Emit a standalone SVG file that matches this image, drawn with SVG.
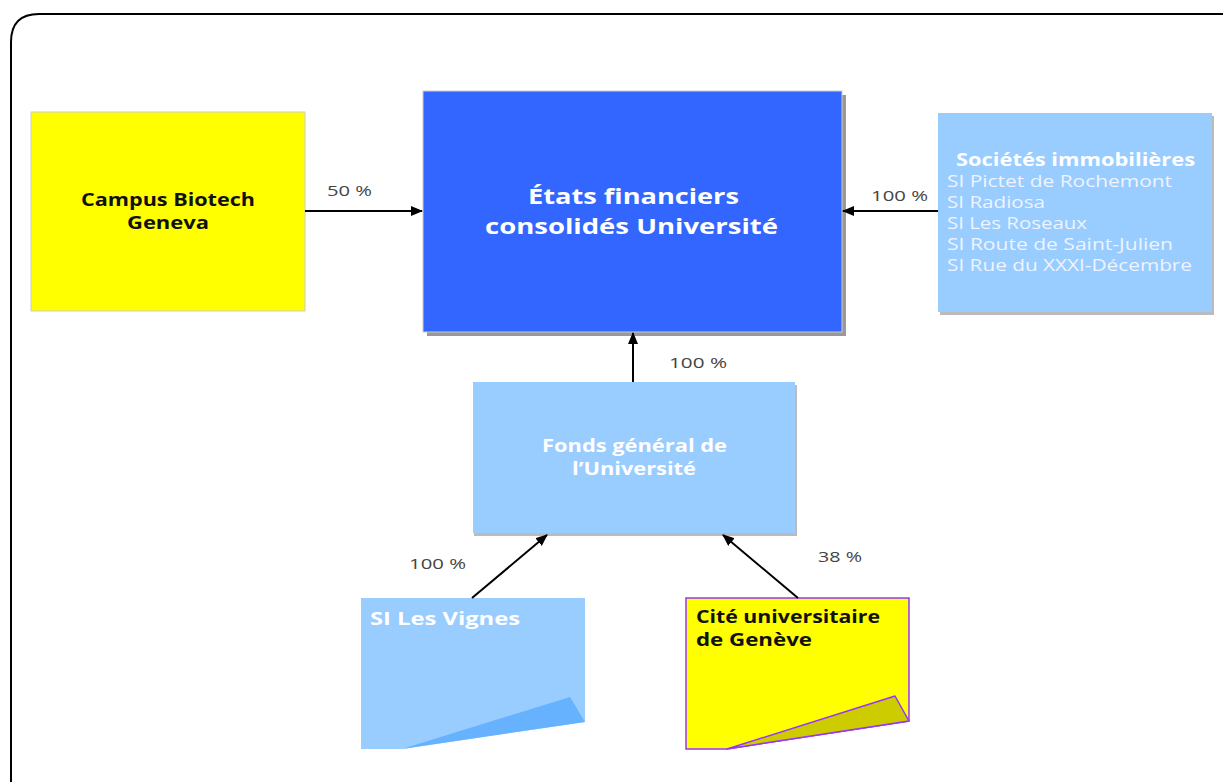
<svg xmlns="http://www.w3.org/2000/svg" width="1223" height="782" viewBox="0 0 1223 782">
<style>
.t{font-family:"Open Sans","Liberation Sans",sans-serif}
.b{font-weight:bold}
.w{fill:#ffffff}
.pct{font-family:"Open Sans","Liberation Sans",sans-serif;font-size:15px;fill:#444444}
.ln{stroke:#000;stroke-width:2;fill:none}
.sh{fill:#999999}
</style>
<defs>
<marker id="ah" markerWidth="12" markerHeight="10" refX="11" refY="5" orient="auto" markerUnits="userSpaceOnUse">
<path d="M0,0 L12,5 L0,10 Z" fill="#000"/>
</marker>
</defs>
<rect width="1223" height="782" fill="#ffffff"/>
<path d="M11,800 L11,42 Q11,14 39,14 L1240,14" fill="none" stroke="#000" stroke-width="2"/>

<g id="campus">
<rect x="31" y="112" width="274" height="199" fill="#ffff00" stroke="#cccccc" stroke-width="1"/>
<text class="t b" font-size="17" fill="#111" x="81" y="206" textLength="174" lengthAdjust="spacingAndGlyphs">Campus Biotech</text>
<text class="t b" font-size="17" fill="#111" x="127" y="229" textLength="82" lengthAdjust="spacingAndGlyphs">Geneva</text>
</g>

<g id="etats">
<rect x="427" y="95" width="419" height="241" class="sh"/>
<rect x="423" y="91" width="419" height="241" fill="#3366ff" stroke="#cccccc" stroke-width="1"/>
<text class="t b w" font-size="22" x="528" y="204" textLength="211" lengthAdjust="spacingAndGlyphs">États financiers</text>
<text class="t b w" font-size="22" x="485" y="234" textLength="293" lengthAdjust="spacingAndGlyphs">consolidés Université</text>
</g>

<g id="societes">
<rect x="940" y="116" width="274" height="199" fill="#bbbbbb"/>
<rect x="938" y="113" width="274" height="199" fill="#99ccff"/>
<text class="t b w" font-size="18" x="956" y="166" textLength="239" lengthAdjust="spacingAndGlyphs">Sociétés immobilières</text>
<g class="t" font-size="16" fill="#eef4ff">
<text x="947" y="187" textLength="225" lengthAdjust="spacingAndGlyphs">SI Pictet de Rochemont</text>
<text x="947" y="208" textLength="98" lengthAdjust="spacingAndGlyphs">SI Radiosa</text>
<text x="947" y="229" textLength="140" lengthAdjust="spacingAndGlyphs">SI Les Roseaux</text>
<text x="947" y="250" textLength="226" lengthAdjust="spacingAndGlyphs">SI Route de Saint-Julien</text>
<text x="947" y="271" textLength="245" lengthAdjust="spacingAndGlyphs">SI Rue du XXXI-Décembre</text>
</g>
</g>

<g id="fonds">
<rect x="474" y="385" width="323" height="151" fill="#bbbbbb"/>
<rect x="473" y="382" width="322" height="151" fill="#99ccff"/>
<text class="t b w" font-size="17" x="542" y="452" textLength="185" lengthAdjust="spacingAndGlyphs">Fonds général de</text>
<text class="t b w" font-size="17" x="572" y="475" textLength="124" lengthAdjust="spacingAndGlyphs">l’Université</text>
</g>

<g id="vignes">
<polygon points="361,598 585,598 585,722 402,749 361,749" fill="#99ccff"/>
<polygon points="402,749 570,697 585,722" fill="#66b2ff"/>
<text class="t b w" font-size="18" x="370" y="625" textLength="150" lengthAdjust="spacingAndGlyphs">SI Les Vignes</text>
</g>

<g id="cite">
<polygon points="686,598 909,598 909,721 727,749 686,749" fill="#ffff00" stroke="#9933ff" stroke-width="1.5"/>
<polygon points="727,749 895,696 909,721" fill="#cccc00" stroke="#9933ff" stroke-width="1.5" stroke-linejoin="round"/>
<text class="t b" font-size="17" fill="#111" x="696" y="623" textLength="184" lengthAdjust="spacingAndGlyphs">Cité universitaire</text>
<text class="t b" font-size="17" fill="#111" x="696" y="646" textLength="116" lengthAdjust="spacingAndGlyphs">de Genève</text>
</g>

<g id="connectors">
<line class="ln" x1="305" y1="211" x2="422" y2="211" marker-end="url(#ah)"/>
<line class="ln" x1="938" y1="211" x2="843" y2="211" marker-end="url(#ah)"/>
<line class="ln" x1="633" y1="382" x2="633" y2="333" marker-end="url(#ah)"/>
<line class="ln" x1="472" y1="598" x2="547" y2="535" marker-end="url(#ah)"/>
<line class="ln" x1="798" y1="598" x2="723" y2="535" marker-end="url(#ah)"/>
<text class="pct" x="327" y="196" textLength="45" lengthAdjust="spacingAndGlyphs">50 %</text>
<text class="pct" x="871" y="201" textLength="57" lengthAdjust="spacingAndGlyphs">100 %</text>
<text class="pct" x="669" y="368" textLength="58" lengthAdjust="spacingAndGlyphs">100 %</text>
<text class="pct" x="409" y="569" textLength="57" lengthAdjust="spacingAndGlyphs">100 %</text>
<text class="pct" x="818" y="562" textLength="44" lengthAdjust="spacingAndGlyphs">38 %</text>
</g>
</svg>
